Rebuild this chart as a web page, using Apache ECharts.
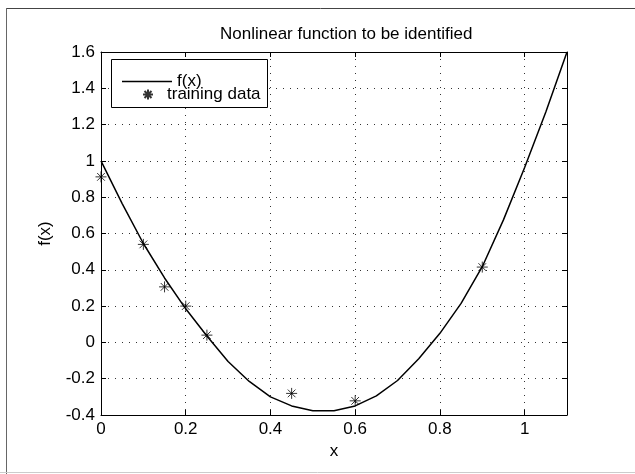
<!DOCTYPE html>
<html>
<head>
<meta charset="utf-8">
<script src="https://cdn.jsdelivr.net/npm/echarts@6/dist/echarts.min.js"></script>
<style>
html,body{margin:0;padding:0;background:#fff;}
#chart{width:635px;height:474px;}
</style>
</head>
<body>
<div id="chart"></div>
<script>
// Curve f(x), sampled every 0.05
var curveX = [0,0.05,0.1,0.15,0.2,0.25,0.3,0.35,0.4,0.45,0.5,0.55,0.6,0.65,0.7,0.75,0.8,0.85,0.9,0.95,1.0,1.05,1.1];
var curveY = [1.0,0.765,0.545,0.355,0.185,0.035,-0.105,-0.215,-0.30,-0.35,-0.377,-0.377,-0.35,-0.295,-0.21,-0.09,0.05,0.215,0.417,0.675,0.964,1.27,1.6];
// Training data
var trainX = [0,0.1,0.15,0.2,0.25,0.45,0.6,0.9];
var trainY = [0.912,0.54,0.306,0.2,0.04,-0.281,-0.322,0.415];

var titleText = 'Nonlinear function to be identified';
var xName = 'x', yName = 'f(x)';
var seriesNames = ['f(x)', 'training data'];

var FONT = '"Liberation Sans", Arial, Helvetica, sans-serif';
var FS = 17;
var chart = echarts.init(document.getElementById('chart'), null, {renderer:'canvas'});

function zip(a,b){ return a.map(function(v,i){ return [v,b[i]]; }); }

var gridL = 101, gridT = 52, gridR = 68, gridB = 59;
var dotted = {show:true, lineStyle:{color:'#333', type:[1,6], width:1}};

var starPath = 'path://M5,0L5,10M0,5L10,5M1.5,1.5L8.5,8.5M1.5,8.5L8.5,1.5';

var option = {
  backgroundColor: '#fff',
  animation: false,
  textStyle: {fontFamily: FONT},
  title: {
    text: titleText,
    left: 220, top: 26, padding: 0,
    textStyle: {fontSize: FS, fontWeight: 'normal', color: '#000', fontFamily: FONT}
  },
  grid: {left: gridL, top: gridT, right: gridR, bottom: gridB, containLabel: false},
  legend: [
    {
      data: [{name: seriesNames[0], icon: 'rect'}],
      left: 122, top: 73, padding: 0,
      itemWidth: 50, itemHeight: 1.5,
      itemStyle: {color: '#000'},
      textStyle: {fontSize: FS, color: '#000', fontFamily: FONT},
      z: 10
    },
    {
      data: [seriesNames[1]],
      left: 142, top: 86, padding: 0,
      itemWidth: 10, itemHeight: 10,
      textStyle: {fontSize: FS, color: '#000', fontFamily: FONT, padding:[0,0,0,9]},
      z: 10
    }
  ],
  xAxis: [
    {
      type: 'value', min: 0, max: 1.1, interval: 0.2, position: 'bottom',
      name: xName, nameLocation: 'middle', nameGap: 28,
      nameTextStyle: {fontSize: FS, color: '#000', fontFamily: FONT},
      axisLine: {show: true, onZero: false, lineStyle: {color: '#000', width: 1}},
      axisTick: {show: true, inside: true, length: 5, lineStyle: {color: '#000'}},
      axisLabel: {fontSize: FS, color: '#000', margin: 6, showMaxLabel: false, fontFamily: FONT},
      splitLine: dotted
    },
    {
      type: 'value', min: 0, max: 1.1, interval: 0.2, position: 'top',
      axisLine: {show: true, onZero: false, lineStyle: {color: '#000', width: 1}},
      axisTick: {show: true, inside: true, length: 5, lineStyle: {color: '#000'}},
      axisLabel: {show: false},
      splitLine: {show: false}
    }
  ],
  yAxis: [
    {
      type: 'value', min: -0.4, max: 1.6, interval: 0.2, position: 'left',
      name: yName, nameLocation: 'middle', nameGap: 47, nameRotate: 90,
      nameTextStyle: {fontSize: FS, color: '#000', fontFamily: FONT},
      axisLine: {show: true, onZero: false, lineStyle: {color: '#000', width: 1}},
      axisTick: {show: true, inside: true, length: 5, lineStyle: {color: '#000'}},
      axisLabel: {fontSize: FS, color: '#000', margin: 6, fontFamily: FONT},
      splitLine: dotted
    },
    {
      type: 'value', min: -0.4, max: 1.6, interval: 0.2, position: 'right',
      axisLine: {show: true, onZero: false, lineStyle: {color: '#000', width: 1}},
      axisTick: {show: true, inside: true, length: 5, lineStyle: {color: '#000'}},
      axisLabel: {show: false},
      splitLine: {show: false}
    }
  ],
  graphic: [
    {type: 'line', shape: {x1: 6, y1: 8.5, x2: 635, y2: 8.5}, style: {stroke: '#444', lineWidth: 1}, z: 0},
    {type: 'line', shape: {x1: 6.5, y1: 8, x2: 6.5, y2: 474}, style: {stroke: '#666', lineWidth: 1}, z: 0},
    {type: 'line', shape: {x1: 0, y1: 472.5, x2: 635, y2: 472.5}, style: {stroke: '#ccc', lineWidth: 1}, z: 0},
    {type: 'rect', shape: {x: 111.5, y: 59.5, width: 156, height: 48}, style: {fill: '#fff', stroke: '#000', lineWidth: 1}, z: 5}
  ],
  series: [
    {
      name: seriesNames[0], type: 'line', xAxisIndex: 0, yAxisIndex: 0,
      data: zip(curveX, curveY),
      symbol: 'none', showSymbol: false, smooth: false,
      lineStyle: {color: '#000', width: 1.5},
      itemStyle: {color: '#000'},
      z: 3
    },
    {
      name: seriesNames[1], type: 'scatter', xAxisIndex: 0, yAxisIndex: 0,
      data: zip(trainX, trainY),
      symbol: starPath, symbolSize: 11,
      itemStyle: {color: 'transparent', borderColor: '#000', borderWidth: 1},
      z: 4
    }
  ]
};
chart.setOption(option);
</script>
</body>
</html>
